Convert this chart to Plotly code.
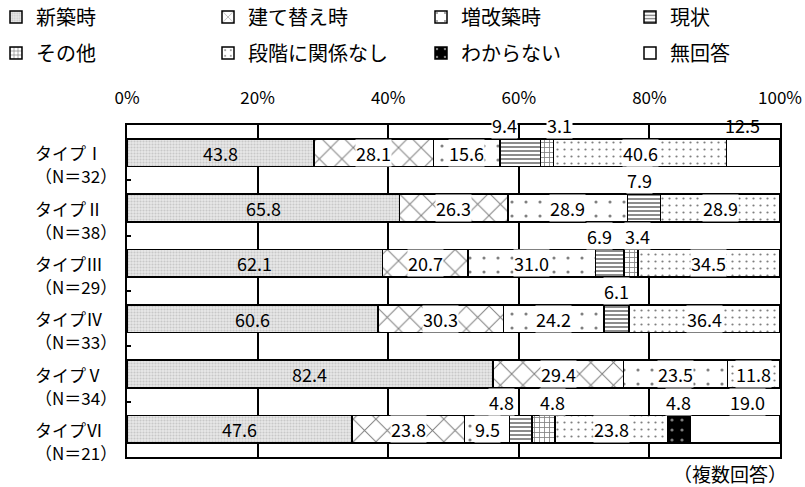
import plotly.graph_objects as go

# ---------------- data ----------------
types = ["タイプⅠ", "タイプⅡ", "タイプⅢ", "タイプⅣ", "タイプⅤ", "タイプⅥ"]
ns = [32, 38, 29, 33, 34, 21]
categories = ["新築時", "建て替え時", "増改築時", "現状", "その他", "段階に関係なし", "わからない", "無回答"]
v_shinchiku = [43.8, 65.8, 62.1, 60.6, 82.4, 47.6]
v_tatekae = [28.1, 26.3, 20.7, 30.3, 29.4, 23.8]
v_zoukaichiku = [15.6, 28.9, 31.0, 24.2, 23.5, 9.5]
v_genjou = [9.4, 7.9, 6.9, 6.1, None, 4.8]
v_sonota = [3.1, None, 3.4, None, None, 4.8]
v_kankeinashi = [40.6, 28.9, 34.5, 36.4, 11.8, 23.8]
v_wakaranai = [None, None, None, None, None, 4.8]
v_mukaitou = [12.5, None, None, None, None, 19.0]
tick_vals = [0, 20, 40, 60, 80, 100]
tick_text = ["0%", "20%", "40%", "60%", "80%", "100%"]
note_text = "（複数回答）"

series = [v_shinchiku, v_tatekae, v_zoukaichiku, v_genjou, v_sonota,
          v_kankeinashi, v_wakaranai, v_mukaitou]

# ---------------- styles ----------------
FONT = "Noto Sans CJK JP"
W, H = 805, 487
ML, MR, MT, MB = 127, 25, 125, 30
PW, PH = W - ML - MR, H - MT - MB

patterns = [
    dict(shape=".", fgcolor="#a8a8a8", bgcolor="#e8e8e8", size=3, solidity=0.4),
    dict(shape="x", fgcolor="black", bgcolor="white", size=16, solidity=0.12),
    dict(shape=".", fgcolor="black", bgcolor="white", size=14, solidity=0.04),
    dict(shape="-", fgcolor="black", bgcolor="white", size=4, solidity=0.45),
    dict(shape="+", fgcolor="black", bgcolor="white", size=5, solidity=0.3),
    dict(shape=".", fgcolor="black", bgcolor="white", size=7, solidity=0.08),
    dict(shape=".", fgcolor="white", bgcolor="black", size=10, solidity=0.08),
    dict(shape="", fgcolor="black", bgcolor="white", size=8, solidity=0.2),
]
outside_cats = {"現状", "その他", "わからない", "無回答"}
label_shift = {(0, "現状"): -16, (0, "その他"): 13, (0, "無回答"): -11,
               (1, "現状"): -5, (2, "現状"): -10, (2, "その他"): 7,
               (5, "現状"): -19, (5, "その他"): 9, (5, "無回答"): 12}
no_bg = {(0, "無回答")}

# legend grid (pixel positions of text starts / row centres)
legend_text_x = [33, 245, 458, 667]
legend_row_y = [17, 53]

# normalise each row to its total (multiple answers)
totals = [sum(s[i] for s in series if s[i] is not None) for i in range(len(types))]
norm = [[(s[i] / totals[i] * 100 if s[i] is not None else None) for i in range(len(types))]
        for s in series]
ypos = list(range(len(types)))

fig = go.Figure()
legends = {}
for j, cat in enumerate(categories):
    lname = "legend" if j == 0 else f"legend{j + 1}"
    fig.add_trace(go.Bar(
        name=cat, x=norm[j], y=ypos, orientation="h", width=0.5,
        marker=dict(color="white" if j != 6 else "black", pattern=patterns[j],
                    line=dict(color="black", width=1.5)),
        legend=lname, showlegend=True,
        hoverinfo="skip",
    ))
    c, r = j % 4, j // 4
    legends[lname] = dict(
        x=(legend_text_x[c] - 37 - ML) / PW, xanchor="left",
        y=(H - MB - legend_row_y[r]) / PH, yanchor="middle",
        orientation="h", itemwidth=30, visible=True,
        font=dict(family=FONT, size=20, color="black"),
        bgcolor="rgba(0,0,0,0)", borderwidth=0)

VFS = 18
annotations = []
for i in range(len(types)):
    cum = 0.0
    for j, cat in enumerate(categories):
        v = series[j][i]
        if v is None:
            continue
        w = norm[j][i]
        mid = cum + w / 2
        cum += w
        txt = f"{v:.1f}"
        if cat in outside_cats:
            annotations.append(dict(
                x=mid, y=i - 0.5, xref="x", yref="y", text=txt, showarrow=False,
                xshift=label_shift.get((i, cat), 0),
                font=dict(family=FONT, size=VFS, color="black"),
                bgcolor=None if (i, cat) in no_bg else "white", borderpad=0))
        else:
            annotations.append(dict(
                x=mid, y=i, xref="x", yref="y", text=txt, showarrow=False,
                font=dict(family=FONT, size=VFS, color="black"),
                bgcolor=None if j == 0 else "white", borderpad=0))
    annotations.append(dict(x=(33 - ML) / PW, xref="paper", y=i, yref="y", text=types[i],
                            xanchor="left", showarrow=False,
                            font=dict(family=FONT, size=17, color="black")))
    annotations.append(dict(x=(33 - ML) / PW, xref="paper", y=i + 0.42, yref="y",
                            text=f"（N＝{ns[i]}）", xanchor="left", showarrow=False,
                            font=dict(family=FONT, size=17, color="black")))
annotations.append(dict(x=(789 - ML) / PW, xref="paper", y=(H - MB - 473) / PH, yref="paper",
                        text=note_text, xanchor="right", yanchor="middle", showarrow=False,
                        font=dict(family=FONT, size=19, color="black")))

fig.update_layout(
    width=W, height=H,
    showlegend=True,
    margin=dict(l=ML, r=MR, t=MT, b=MB, autoexpand=False),
    paper_bgcolor="white", plot_bgcolor="white",
    barmode="stack", bargap=0.5,
    font=dict(family=FONT, size=15, color="black"),
    annotations=annotations,
    xaxis=dict(range=[0, 100], side="top", tickvals=tick_vals, ticktext=tick_text,
               showgrid=True, gridcolor="black", gridwidth=1.5, zeroline=False,
               showline=True, linecolor="black", linewidth=1.5, mirror=True,
               ticks="", ticklabelstandoff=12,
               tickfont=dict(family=FONT, size=17, color="black"), fixedrange=True),
    yaxis=dict(range=[len(types) - 0.5, -0.5], tickvals=[k + 0.5 for k in range(len(types) - 1)],
               ticks="inside", ticklen=4, tickwidth=1.5, tickcolor="black",
               showticklabels=False, showgrid=False, zeroline=False,
               showline=True, linecolor="black", linewidth=1.5, mirror=True,
               fixedrange=True),
    **legends,
)

fig.write_html("out.html")
